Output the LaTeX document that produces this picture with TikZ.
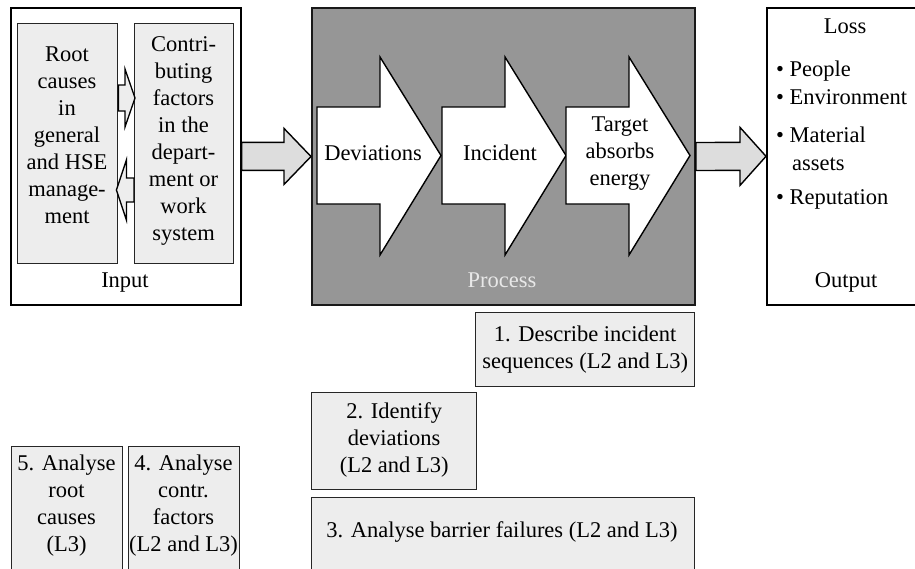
\documentclass[tikz,border=0pt]{standalone}
\usepackage{fontspec}
\setmainfont{Liberation Serif}
\usetikzlibrary{calc}

\definecolor{panelfill}{RGB}{237,237,237}
\definecolor{procfill}{RGB}{150,150,150}
\definecolor{arrowfill}{RGB}{221,221,221}
\definecolor{proctext}{RGB}{232,232,232}

\tikzset{
  frame/.style={draw=black, line width=1.6pt, fill=white, inner sep=0pt, anchor=north west},
  panel/.style={draw=black!85, line width=1.4pt, fill=panelfill, inner sep=0pt, anchor=north west},
  txt/.style={font=\fontsize{22.5}{27}\selectfont, align=center, inner sep=0pt},
  oneline/.style={txt, text height=16pt, text depth=5pt},
  fat/.style={draw=black, line width=1.4pt, fill=arrowfill, line join=miter},
  smallfat/.style={draw=black, line width=1.3pt, fill=panelfill, line join=miter},
  chevron/.style={draw=black, line width=1.4pt, fill=white, line join=miter},
}

% block arrow from #1 to the tip #2 (same height):
% #3 shaft half width, #4 head half width, #5 head length
\newcommand\blockarrow[6][fat]{%
  \filldraw[#1]
    ($(#2)+(0,#4)$) --
    ($(#3)!#6pt!(#2)+(0,#4)$) --
    ($(#3)!#6pt!(#2)+(0,#5)$) --
    (#3) --
    ($(#3)!#6pt!(#2)+(0,-#5)$) --
    ($(#3)!#6pt!(#2)+(0,-#4)$) --
    ($(#2)+(0,-#4)$) -- cycle;}

% process step: a fat chevron whose left edge is at x=#1
\newcommand\stepchevron[1]{%
  \filldraw[chevron] (#1,107) -- ({#1+63},107) -- ({#1+63},57) --
    ({#1+124},155.5) -- ({#1+63},255) -- ({#1+63},204) -- (#1,204) -- cycle;}

\begin{document}
\begin{tikzpicture}[x=1pt,y=-1pt]
  \fill[white] (0,0) rectangle (915,568);
  \useasboundingbox (0,0) rectangle (915,568);

  % ---------- input ----------
  \node[frame, minimum width=230pt, minimum height=297pt] (input) at (10,7) {};
  \node[panel, minimum width=100pt, minimum height=240pt] (root) at (17,23) {};
  \node[panel, minimum width=99pt, minimum height=240pt] (contrib) at (134,23) {};
  \node[txt] (roottxt) at (67,135) {Root\\causes\\in\\general\\and HSE\\manage-\\ment};
  \node[txt] (contribtxt) at (183.5,141) {Contri-\\buting\\factors\\in the\\depart-\\ment or\\work\\system};
  \node[oneline] (inputlbl) at (125,282) {Input};

  \coordinate (ra) at ($(root.north east)+(0,75)$);
  \coordinate (rb) at ($(contrib.north west)+(1,75)$);
  \coordinate (la) at ($(contrib.north west)+(0,167)$);
  \coordinate (lb) at ($(root.north east)+(-2,167)$);
  \blockarrow[smallfat]{ra}{rb}{13}{29}{10}
  \blockarrow[smallfat]{la}{lb}{12}{30}{10}

  % ---------- process ----------
  \node[draw=black!90, line width=2pt, fill=procfill, inner sep=0pt, anchor=north west,
        minimum width=383pt, minimum height=297pt] (proc) at (311,7) {};
  \stepchevron{317}
  \stepchevron{442}
  \stepchevron{566}
  \node[oneline] (dev) at (373,155) {Deviations};
  \node[oneline] (inc) at (500,155) {Incident};
  \node[txt] (target) at (620,154) {Target\\absorbs\\energy};
  \node[oneline, text=proctext] (proclbl) at (502,282) {Process};

  % ---------- output ----------
  \node[frame, minimum width=170pt, minimum height=297pt] (out) at (766,7) {};
  \node[oneline] (loss) at (845,28) {Loss};
  \node[oneline, anchor=west] (l1) at (776,71) {• People};
  \node[oneline, anchor=west] (l2) at (776,99) {• Environment};
  \node[oneline, anchor=west] (l3) at (776,137) {• Material};
  \node[oneline, anchor=west] (l3b) at (792,165) {assets};
  \node[oneline, anchor=west] (l4) at (776,199) {• Reputation};
  \node[oneline] (outlbl) at (846,282) {Output};

  % ---------- flow between blocks ----------
  \blockarrow{input.east}{proc.west}{14}{28}{27}
  \blockarrow{proc.east}{out.west}{14}{29}{26}

  % ---------- analysis steps ----------
  \node[panel, minimum width=219pt, minimum height=74pt] (s1) at (475,312) {};
  \node[txt] at (s1.center) {1. Describe incident\\sequences (L2 and L3)};
  \node[panel, minimum width=165pt, minimum height=97pt] (s2) at (311,392) {};
  \node[txt] at ($(s2.center)+(0,-1)$) {2. Identify\\deviations\\(L2 and L3)};
  \node[panel, minimum width=383pt, minimum height=90pt] (s3) at (311,497) {};
  \node[oneline] (s3txt) at (502,532) {3. Analyse barrier failures (L2 and L3)};
  \node[panel, minimum width=111pt, minimum height=130pt] (s5) at (11,446) {};
  \node[txt] (s5txt) at (66.5,506) {5. Analyse\\root\\causes\\(L3)};
  \node[panel, minimum width=111pt, minimum height=130pt] (s4) at (128,446) {};
  \node[txt] (s4txt) at (183.5,506) {4. Analyse\\contr.\\factors\\(L2 and L3)};
\end{tikzpicture}
\end{document}
